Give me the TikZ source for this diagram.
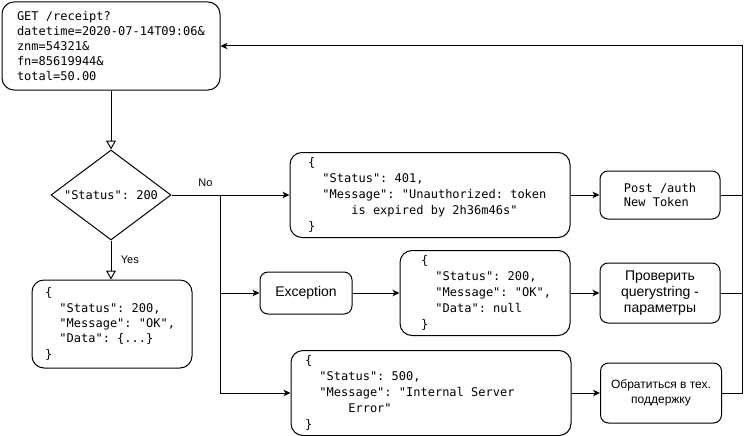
\documentclass[tikz,border=0pt]{standalone}
\usepackage{fontspec}
\setmainfont{Liberation Sans}
\setmonofont{DejaVu Sans Mono}
\usetikzlibrary{shapes.geometric,arrows.meta}
\newcommand{\tsp}{\hphantom{x}}
\newcommand{\jsind}{\hphantom{xx}}
\newcommand{\jswrap}{\hphantom{xxxx}}
\begin{document}
\begin{tikzpicture}[x=1pt,y=-1pt,
  boxdecorate/.style={draw,line width=1pt,rounded corners=12pt,align=left,inner ysep=0pt,%
    font=\ttfamily\fontsize{12}{16}\selectfont},%
  smalldecorate/.style={draw,line width=1pt,rounded corners=8pt,align=center,inner sep=0pt},%
  arrowdecorate/.style={-{Stealth[length=7pt,width=6.5pt,inset=2pt]},line width=1pt},%
  openarrowdecorate/.style={-{Triangle[open,length=9pt,width=10pt]},line width=1pt},%
  linedecorate/.style={-,line width=1pt}]
\useasboundingbox (0,0) rectangle (749,436);
%% nodes or vertices
\node (req) at (111,46) [boxdecorate,minimum height=88pt,text width=188pt,inner xsep=15pt,%
  font=\ttfamily\fontsize{12}{14.8}\selectfont]
  {GET\tsp/receipt?\\datetime=2020-07-14T09:06\&\\znm=54321\&\\fn=85619944\&\\total=50.00};
\node (dec) at (111,195) [shape=diamond,draw,line width=1pt,aspect=1.333,inner sep=0pt,%
  minimum width=120pt,minimum height=90pt,font=\ttfamily\fontsize{12}{14}\selectfont]
  {"Status":\tsp200};
\node (ok200) at (112,324) [boxdecorate,minimum height=88pt,text width=134pt,inner xsep=13pt,%
  font=\ttfamily\fontsize{12}{15.3}\selectfont]
  {\{\\\jsind"Status":\tsp200,\\\jsind"Message":\tsp"OK",\\\jsind"Data":\tsp\{...\}\\\}};
\node (err401) at (430,195) [boxdecorate,minimum height=85pt,text width=244pt,inner xsep=18pt]
  {\{\\\jsind"Status":\tsp401,\\\jsind"Message":\tsp"Unauthorized:\tsp token\\%
   \jsind\jswrap is\tsp expired\tsp by\tsp 2h36m46s"\\\}};
\node (auth) at (660,195) [smalldecorate,minimum width=120pt,minimum height=48pt,align=left,%
  font=\ttfamily\fontsize{12}{14.4}\selectfont]
  {Post\tsp/auth\\New\tsp Token};
\node (exc) at (306,293) [smalldecorate,minimum width=92pt,minimum height=42pt,%
  font=\fontsize{14}{16}\selectfont] {Exception};
\node (nul) at (485,293) [boxdecorate,minimum height=85pt,text width=128pt,inner xsep=21pt]
  {\{\\\jsind"Status":\tsp200,\\\jsind"Message":\tsp"OK",\\\jsind"Data":\tsp null\\\}};
\node (check) at (660,293) [smalldecorate,minimum width=120pt,minimum height=60pt,%
  font=\fontsize{14}{16}\selectfont] {Проверить\\querystring -\\параметры};
\node (err500) at (431,393) [boxdecorate,minimum height=85pt,text width=252pt,inner xsep=14pt]
  {\{\\\jsind"Status":\tsp500,\\\jsind"Message":\tsp"Internal\tsp Server\\\jsind\jswrap Error"\\\}};
\node (support) at (661,393) [smalldecorate,minimum width=121pt,minimum height=60pt,%
  font=\fontsize{12}{14.4}\selectfont] {Обратиться в тех.\\поддержку};
\coordinate (split) at (220,195);
\coordinate (loop) at (742,46);
%% edges or lines
\draw[openarrowdecorate] (req.south) -- (dec.north);
\draw[openarrowdecorate] (dec.south) -- (dec.south |- ok200.north)
  node[midway,right,xshift=6pt,font=\fontsize{11}{13}\selectfont] {Yes};
\draw[linedecorate] (dec.east) -- (split)
  node[pos=0.7,above,yshift=5pt,font=\fontsize{11}{13}\selectfont] {No};
\draw[arrowdecorate] (split) -- (err401.west);
\draw[arrowdecorate] (split) |- (exc.west);
\draw[arrowdecorate] (split) |- (err500.west);
\draw[arrowdecorate] (exc) -- (nul);
\draw[arrowdecorate] (err401) -- (auth);
\draw[arrowdecorate] (nul) -- (check);
\draw[arrowdecorate] (err500) -- (support);
\draw[arrowdecorate] (support.east) -| (loop) -- (req.east);
\draw[linedecorate] (check.east) -- (check.east -| loop);
\draw[linedecorate] (auth.east) -- (auth.east -| loop);
\end{tikzpicture}
\end{document}
